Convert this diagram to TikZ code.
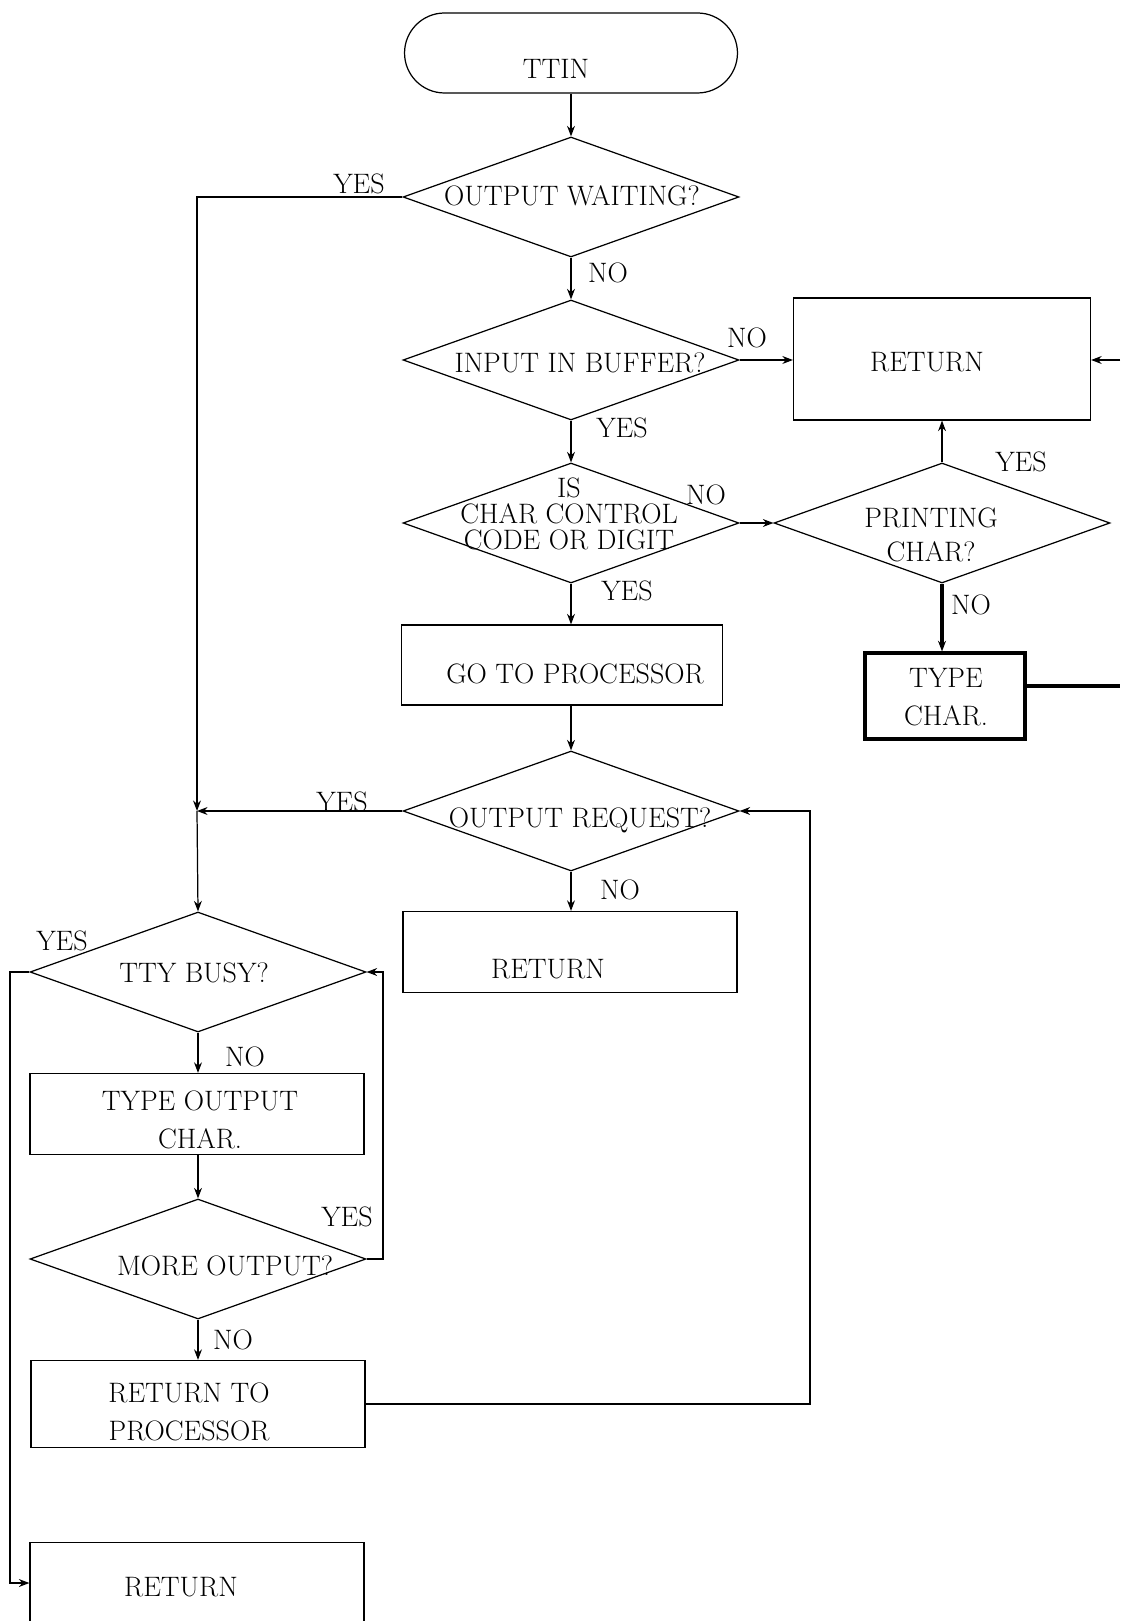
\documentclass[tikz,border=0pt]{standalone}
\usetikzlibrary{arrows.meta,shapes.geometric,shapes.misc}

\begin{document}
\begin{tikzpicture}[x=0.02cm,y=-0.02cm,font=\fontsize{16}{21.5}\selectfont,
  >={Stealth[length=6pt,width=4.5pt]},line width=0.7pt,
  dec/.style={draw,diamond,minimum width=6.72cm,minimum height=2.4cm,inner sep=0pt},
  box/.style={draw,rectangle,inner sep=0pt,minimum width=6.68cm,minimum height=1.62cm},
  term/.style={draw,rounded rectangle,inner sep=0pt,minimum width=6.66cm,minimum height=1.6cm},
  dtxt/.style={inner sep=0pt,align=center},
  lbl/.style={inner sep=0pt},
  heavy/.style={line width=1.8pt}]
  \useasboundingbox (0,0) rectangle (1120,1621);
  % main column
  \node[term] (ttin) at (571,53) {};
  \node[dtxt] (ttinT) at (556,69) {TTIN};
  \node[dec] (ow) at (571,197) {};
  \node[dtxt] (owT) at (572,196) {OUTPUT WAITING?};
  \node[dec] (ib) at (571,360) {};
  \node[dtxt] (ibT) at (580,363) {INPUT IN BUFFER?};
  \node[dec] (ic) at (571,523) {};
  \node[dtxt,font=\fontsize{16}{15}\selectfont] (icT) at (569,514) {IS\\CHAR CONTROL\hspace*{28pt}\\CODE OR DIGIT};
  \node[box,minimum width=6.42cm,minimum height=1.6cm] (gp) at (562,665) {};
  \node[dtxt] (gpT) at (575,674) {GO TO PROCESSOR};
  \node[dec] (orq) at (571,811) {};
  \node[dtxt] (orqT) at (580,820) {OUTPUT REQUEST?};
  \node[box] (rt2) at (570,952) {};
  \node[dtxt] (rt2T) at (548,969) {RETURN};
  % right column
  \node[box,minimum width=5.94cm,minimum height=2.44cm] (rt1) at (942,359) {};
  \node[dtxt] (rt1T) at (927,362) {RETURN};
  \node[dec] (pc) at (942,523) {};
  \node[dtxt,font=\fontsize{16}{19}\selectfont] (pcT) at (931,535) {PRINTING\\CHAR?};
  \node[box,heavy,minimum width=3.2cm,minimum height=1.72cm] (tc) at (945,696) {};
  \node[dtxt] (tcT) at (946,697) {TYPE\\CHAR.};
  % left column
  \node[dec] (tb) at (198,972) {};
  \node[dtxt] (tbT) at (194,973) {TTY BUSY?};
  \node[box] (to) at (197,1114) {};
  \node[dtxt] (toT) at (200,1120) {TYPE OUTPUT\\CHAR.};
  \node[dec] (mo) at (198,1259) {};
  \node[dtxt] (moT) at (225,1266) {MORE OUTPUT?};
  \node[box,minimum height=1.74cm] (rp) at (198,1404) {};
  \node[dtxt] (rpT) at (189,1412) {RETURN TO\\PROCESSOR};
  \node[box] (rt3) at (197,1583) {};
  \node[dtxt] (rt3T) at (181,1587) {RETURN};

  % branch labels
  \node[lbl] (owY) at (359,184) {YES};
  \node[lbl] (owN) at (608,273) {NO};
  \node[lbl] (ibN) at (747,338) {NO};
  \node[lbl] (ibY) at (622,428) {YES};
  \node[lbl] (icN) at (706,495) {NO};
  \node[lbl] (icY) at (627,591) {YES};
  \node[lbl] (pcY) at (1021,462) {YES};
  \node[lbl] (pcN) at (971,605) {NO};
  \node[lbl] (orqY) at (342,802) {YES};
  \node[lbl] (orqN) at (620,890) {NO};
  \node[lbl] (tbY) at (62,941) {YES};
  \node[lbl] (tbN) at (245,1057) {NO};
  \node[lbl] (moY) at (347,1217) {YES};
  \node[lbl] (moN) at (233,1340) {NO};

  % bends and loose ends
  \coordinate (jl) at (197,811);
  \coordinate (lpR) at (810,811);
  \coordinate (lpL) at (10,1583);
  \coordinate (lpM) at (383,972);
  \coordinate (eR1) at (1120,686);
  \coordinate (eR2) at (1120,360);

  \draw[->] (ttin.south) -- (ow.north);
  \draw[->] (ow.south) -- (ib.north);
  \draw[->] (ib.east) -- (ib.east -| rt1.west);
  \draw[->] (ib.south) -- (ic.north);
  \draw[->] (ic.east) -- (pc.west);
  \draw[->] (pc.north) -- (pc.north |- rt1.south);
  \draw[->,heavy] (pc.south) -- (pc.south |- tc.north);
  \draw[heavy] (tc.east |- eR1) -- (eR1);
  \draw[->] (eR2) -- (eR2 -| rt1.east);
  \draw[->] (ic.south) -- (ic.south |- gp.north);
  \draw[->] (gp.south -| orq.north) -- (orq.north);
  \draw[->] (ow.west) -| (jl);
  \draw[->] (orq.west) -- (jl);
  \draw[->] (jl) -- (tb.north);
  \draw[->] (orq.south) -- (orq.south |- rt2.north);
  \draw[->] (rp.east) -| (lpR) -- (orq.east);
  \draw[->] (tb.west) -| (lpL) -- (rt3.west);
  \draw[->] (tb.south) -- (tb.south |- to.north);
  \draw[->] (to.south -| mo.north) -- (mo.north);
  \draw[->] (mo.east) -| (lpM) -- (tb.east);
  \draw[->] (mo.south) -- (mo.south |- rp.north);
\end{tikzpicture}
\end{document}
